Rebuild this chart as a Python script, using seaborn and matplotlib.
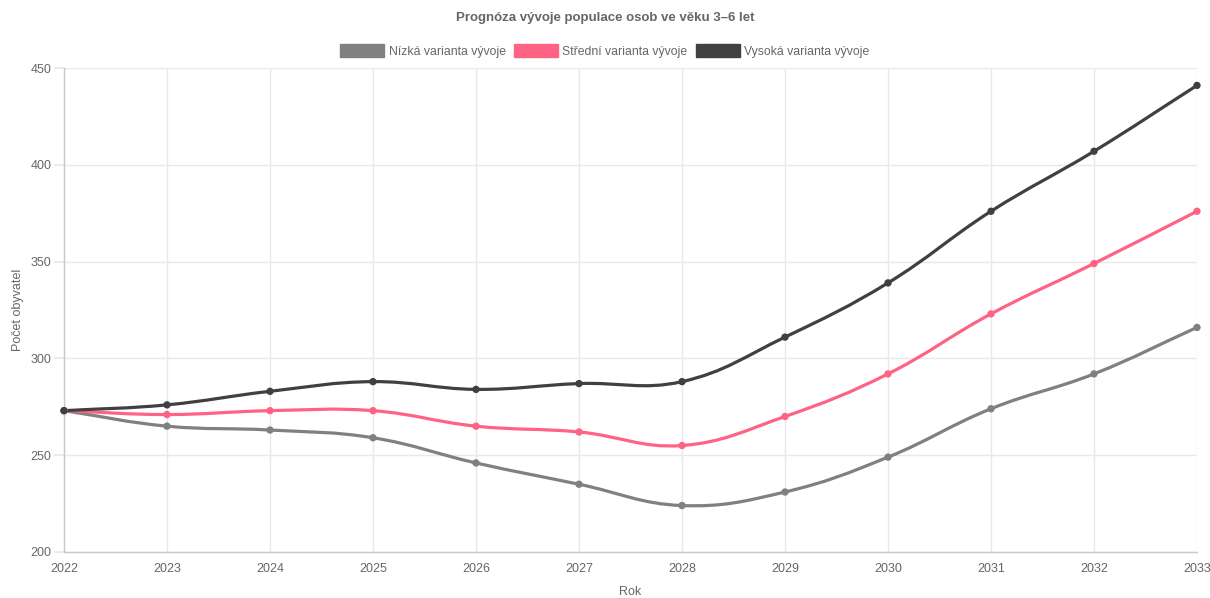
import numpy as np
import pandas as pd
import matplotlib
matplotlib.use("Agg")
import matplotlib.pyplot as plt
import seaborn as sns
from matplotlib.path import Path
from matplotlib.patches import PathPatch, Patch

years = [2022, 2023, 2024, 2025, 2026, 2027, 2028, 2029, 2030, 2031, 2032, 2033]
low = [273, 265, 263, 259, 246, 235, 224, 231, 249, 274, 292, 316]
mid = [273, 271, 273, 273, 265, 262, 255, 270, 292, 323, 349, 376]
high = [273, 276, 283, 288, 284, 287, 288, 311, 339, 376, 407, 441]
series_names = ["Nízká varianta vývoje", "Střední varianta vývoje", "Vysoká varianta vývoje"]
series_vals = [low, mid, high]
colors = ["#808080", "#ff6384", "#404040"]
y_ticks = [200, 250, 300, 350, 400, 450]

sns.set_theme(style="white")
plt.rcParams["font.family"] = ["Liberation Sans", "DejaVu Sans"]

W, H = 1210, 598
fig = plt.figure(figsize=(W / 100, H / 100), dpi=100)
left, right, top, bottom = 64, 1197, 68, 552
ax = fig.add_axes([left / W, 1 - bottom / H, (right - left) / W, (bottom - top) / H])
ax.set_xlim(years[0], years[-1])
ax.set_ylim(200, 450)

df = pd.DataFrame({
    "Rok": years * 3,
    "val": low + mid + high,
    "serie": sum([[n] * len(years) for n in series_names], []),
})

fig.canvas.draw()
tr = ax.transData
inv = tr.inverted()
tension = 0.4
for vals, col in zip(series_vals, colors):
    pts = tr.transform(np.column_stack([years, vals]))
    n = len(pts)
    cps_prev = []
    cps_next = []
    for i in range(n):
        prev = pts[i - 1] if i > 0 else pts[i]
        cur = pts[i]
        nxt = pts[i + 1] if i < n - 1 else pts[i]
        d01 = np.hypot(*(cur - prev))
        d12 = np.hypot(*(nxt - cur))
        tot = d01 + d12
        s01 = d01 / tot if tot else 0
        s12 = d12 / tot if tot else 0
        fa = tension * s01
        fb = tension * s12
        cps_prev.append(cur - fa * (nxt - prev))
        cps_next.append(cur + fb * (nxt - prev))
    verts = [pts[0]]
    codes = [Path.MOVETO]
    for i in range(1, n):
        verts += [cps_next[i - 1], cps_prev[i], pts[i]]
        codes += [Path.CURVE4] * 3
    verts = inv.transform(np.array(verts))
    ax.add_patch(PathPatch(Path(verts, codes), facecolor="none", edgecolor=col,
                           lw=2.3, capstyle="round", joinstyle="round", zorder=3))

sns.scatterplot(data=df, x="Rok", y="val", hue="serie", palette=colors,
                hue_order=series_names, s=28, linewidth=0, ax=ax, legend=False, zorder=4,
                clip_on=False)

ax.set_xticks(years)
ax.set_xticklabels([str(y) for y in years])
ax.set_yticks(y_ticks)
ax.set_yticklabels([str(v) for v in y_ticks])
ax.grid(True, color="#e8e8e8", lw=1)
ax.set_axisbelow(True)
for s in ["top", "right"]:
    ax.spines[s].set_visible(False)
for s in ["left", "bottom"]:
    ax.spines[s].set_color("#c8c8c8")
    ax.spines[s].set_linewidth(1)
ax.tick_params(axis="y", length=7, color="#e8e8e8", labelsize=9, labelcolor="#666666", pad=2, left=True)
ax.tick_params(axis="x", length=0, labelsize=9, labelcolor="#666666", pad=8)
ax.set_xlabel("Rok", fontsize=9, color="#666666", labelpad=8)
ax.set_ylabel("Počet obyvatel", fontsize=9, color="#666666", labelpad=5)

fig.text(0.5, 1 - 18 / H, "Prognóza vývoje populace osob ve věku 3–6 let", ha="center", va="center",
         fontsize=9.5, fontweight="bold", color="#666666")

handles = [Patch(facecolor=c, edgecolor=c) for c in colors]
fig.legend(handles, series_names, loc="center", bbox_to_anchor=(0.5, 1 - 51 / H), ncol=3,
           frameon=False, fontsize=8.8, labelcolor="#666666", handlelength=3.6, handleheight=1.2,
           handletextpad=0.35, columnspacing=0.7)

fig.savefig("out.png", dpi=100)
